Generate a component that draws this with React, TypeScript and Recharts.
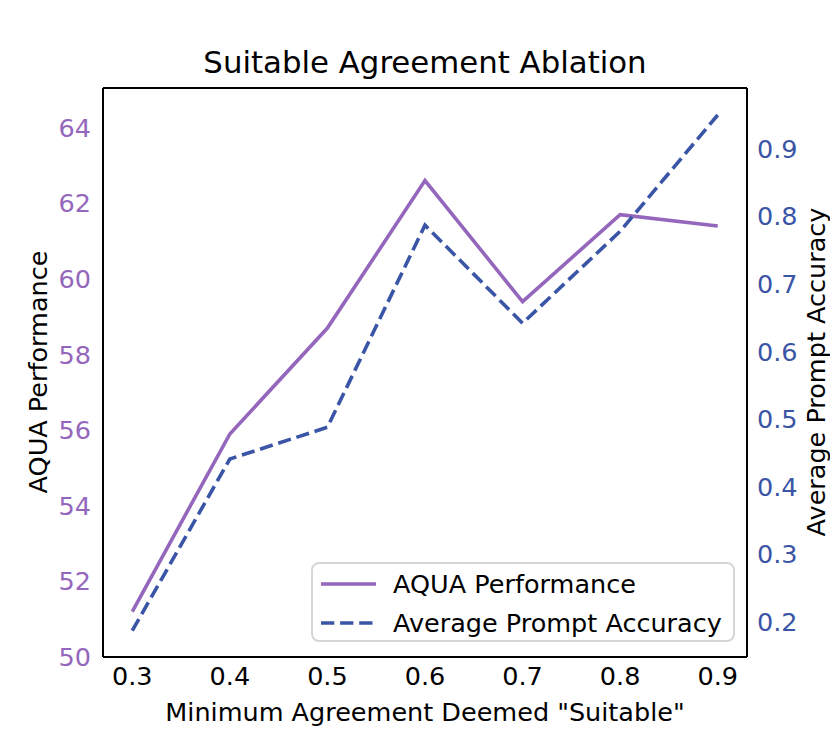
import React from "react";
import { LineChart, Line, XAxis, YAxis } from "recharts";

const thresholds = [0.3, 0.4, 0.5, 0.6, 0.7, 0.8, 0.9];
const aquaPerformance = [51.2, 55.9, 58.7, 62.6, 59.4, 61.7, 61.4];
const promptAccuracy = [0.187, 0.441, 0.488, 0.787, 0.642, 0.778, 0.95];
const xTicks = [0.3, 0.4, 0.5, 0.6, 0.7, 0.8, 0.9];
const leftTicks = [50, 52, 54, 56, 58, 60, 62, 64];
const rightTicks = [0.2, 0.3, 0.4, 0.5, 0.6, 0.7, 0.8, 0.9];
const seriesNames = ["AQUA Performance", "Average Prompt Accuracy"];

const data = thresholds.map((x, i) => ({
  x,
  aqua: aquaPerformance[i],
  acc: promptAccuracy[i],
}));

const PURPLE = "#9467bd";
const BLUE = "#3a55a6";
const FONT = "DejaVu Sans";
const FS = 25.5;
const DASH = "13.3 5.8";

const legendItems = [
  { name: seriesNames[0], color: PURPLE, dash: undefined as string | undefined },
  { name: seriesNames[1], color: BLUE, dash: DASH },
];

export default function App() {
  return (
    <div
      style={{
        position: "absolute",
        left: 0,
        top: 0,
        width: 830,
        height: 738,
        background: "#fff",
        fontFamily: FONT,
      }}
    >
      <div
        style={{
          position: "absolute",
          left: 425,
          top: 62,
          transform: "translate(-50%, -50%)",
          whiteSpace: "nowrap",
          fontSize: 30.8,
          color: "#000",
        }}
      >
        Suitable Agreement Ablation
      </div>
      <LineChart
        width={830}
        height={738}
        data={data}
        margin={{ top: 87, right: 23, bottom: 41, left: 43 }}
      >
        <XAxis
          dataKey="x"
          type="number"
          domain={[0.27, 0.93]}
          ticks={xTicks}
          allowDataOverflow
          tickFormatter={(v: number) => v.toFixed(1)}
          tickLine={false}
          tickSize={0}
          tickMargin={10}
          height={40}
          axisLine={{ stroke: "#000", strokeWidth: 2 }}
          tick={{ fill: "#000", fontSize: FS, fontFamily: FONT }}
        />
        <XAxis
          xAxisId="top"
          dataKey="x"
          type="number"
          orientation="top"
          domain={[0.27, 0.93]}
          ticks={xTicks}
          tick={false}
          tickLine={false}
          height={1}
          axisLine={{ stroke: "#000", strokeWidth: 2 }}
        />
        <YAxis
          yAxisId="left"
          type="number"
          domain={[50, 65.05]}
          ticks={leftTicks}
          allowDataOverflow
          tickLine={false}
          tickSize={0}
          tickMargin={12}
          width={60}
          axisLine={{ stroke: "#000", strokeWidth: 2 }}
          tick={{ fill: PURPLE, fontSize: FS, fontFamily: FONT }}
        />
        <YAxis
          yAxisId="right"
          orientation="right"
          type="number"
          domain={[0.148, 0.99]}
          ticks={rightTicks}
          allowDataOverflow
          tickFormatter={(v: number) => v.toFixed(1)}
          tickLine={false}
          tickSize={0}
          tickMargin={10}
          width={60}
          axisLine={{ stroke: "#000", strokeWidth: 2 }}
          tick={{ fill: BLUE, fontSize: FS, fontFamily: FONT, textAnchor: "start" }}
        />
        <Line
          yAxisId="left"
          dataKey="aqua"
          name={seriesNames[0]}
          stroke={PURPLE}
          strokeWidth={3.6}
          dot={false}
          activeDot={false}
          isAnimationActive={false}
        />
        <Line
          yAxisId="right"
          dataKey="acc"
          name={seriesNames[1]}
          stroke={BLUE}
          strokeWidth={3.6}
          strokeDasharray={DASH}
          dot={false}
          activeDot={false}
          isAnimationActive={false}
        />
      </LineChart>
      <div
        style={{
          position: "absolute",
          left: 311,
          top: 562,
          boxSizing: "border-box",
          width: 424,
          height: 80,
          border: "2px solid #d6d6d6",
          borderRadius: 8,
          background: "rgba(255,255,255,0.8)",
          fontSize: FS,
          color: "#000",
          paddingTop: 0,
        }}
      >
        {legendItems.map((it, i) => (
          <div key={i} style={{ display: "flex", alignItems: "center", height: 39 }}>
            <svg width={80} height={20} style={{ flex: "none" }}>
              <line
                x1={8}
                x2={63}
                y1={10}
                y2={10}
                stroke={it.color}
                strokeWidth={3.6}
                strokeDasharray={it.dash}
              />
            </svg>
            <span style={{ whiteSpace: "nowrap" }}>{it.name}</span>
          </div>
        ))}
      </div>
      <div
        style={{
          position: "absolute",
          left: 38,
          top: 372,
          transform: "translate(-50%, -50%) rotate(-90deg)",
          whiteSpace: "nowrap",
          fontSize: FS,
          color: "#000",
        }}
      >
        AQUA Performance
      </div>
      <div
        style={{
          position: "absolute",
          left: 816,
          top: 372,
          transform: "translate(-50%, -50%) rotate(-90deg)",
          whiteSpace: "nowrap",
          fontSize: FS,
          color: "#000",
        }}
      >
        Average Prompt Accuracy
      </div>
      <div
        style={{
          position: "absolute",
          left: 425,
          top: 712,
          transform: "translate(-50%, -50%)",
          whiteSpace: "nowrap",
          fontSize: FS,
          color: "#000",
        }}
      >
        Minimum Agreement Deemed "Suitable"
      </div>
    </div>
  );
}
